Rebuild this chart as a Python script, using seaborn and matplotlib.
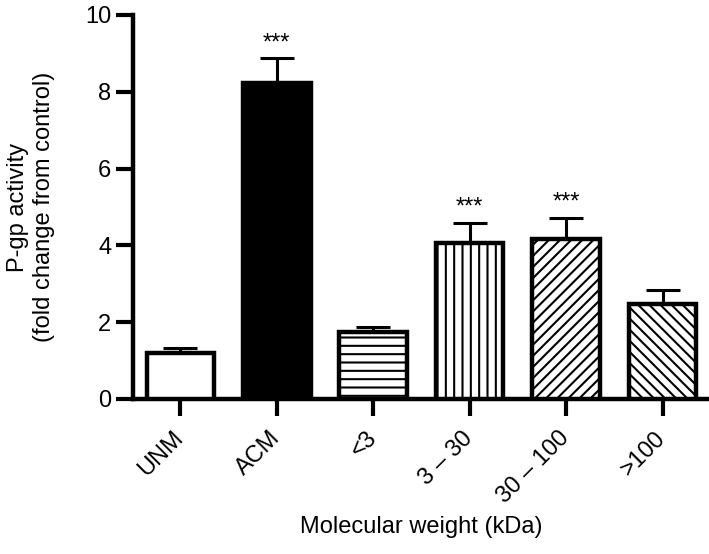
import numpy as np
import pandas as pd
import matplotlib
matplotlib.use("Agg")
import matplotlib.pyplot as plt
import seaborn as sns

groups = ["UNM", "ACM", "<3", "3 \u2013 30", "30 \u2013 100", ">100"]
activity = [1.2, 8.22, 1.74, 4.06, 4.17, 2.47]
sem = [0.14, 0.66, 0.14, 0.53, 0.55, 0.38]
stars = ["", "***", "", "***", "***", ""]

sns.set_style("ticks")
plt.rcParams["font.family"] = ["Liberation Sans", "DejaVu Sans"]
plt.rcParams["hatch.linewidth"] = 1.5
plt.rcParams["text.color"] = "black"
plt.rcParams["axes.labelcolor"] = "black"
plt.rcParams["xtick.color"] = "black"
plt.rcParams["ytick.color"] = "black"

df = pd.DataFrame({"group": groups, "activity": activity})

fig = plt.figure(figsize=(7.09, 5.54), dpi=100)
ax = fig.add_axes([0.1876, 0.2798, 0.8124, 0.6932])

sns.barplot(data=df, x="group", y="activity", color="white", width=0.7,
            edgecolor="black", linewidth=3.2, errorbar=None, ax=ax, zorder=3)

hatches = ["", "", "--", "||", "///", "\\\\\\"]
for i, bar in enumerate(ax.patches):
    bar.set_hatch(hatches[i])
    bar.set_facecolor("black" if groups[i] == "ACM" else "white")
    bar.set_edgecolor("black")

x = np.arange(len(groups))
ax.errorbar(x, activity, yerr=[np.zeros(len(sem)), sem], fmt="none",
            ecolor="black", elinewidth=2.2, capsize=12.5, capthick=2.2, zorder=2)

for xi, v, e, s in zip(x, activity, sem, stars):
    if s:
        ax.text(xi, v + e + 0.1, s, ha="center", va="bottom", fontsize=17)

ax.set_xlim(-0.49, 5.48)
ax.set_ylim(0, 10)
ax.set_yticks([0, 2, 4, 6, 8, 10])
ax.set_xlabel("Molecular weight (kDa)", fontsize=17, labelpad=6)
ax.set_ylabel("P-gp activity\n(fold change from control)", fontsize=17,
              labelpad=22, linespacing=1.2)
ax.tick_params(axis="both", labelsize=17, width=3, length=12)
ax.tick_params(axis="x", pad=14)
plt.setp(ax.get_xticklabels(), rotation=45, ha="right", va="center",
         rotation_mode="anchor")
for sp in ["left", "bottom"]:
    ax.spines[sp].set_linewidth(3.2)
    ax.spines[sp].set_color("black")
sns.despine(ax=ax)

fig.savefig("out.png", dpi=100)
